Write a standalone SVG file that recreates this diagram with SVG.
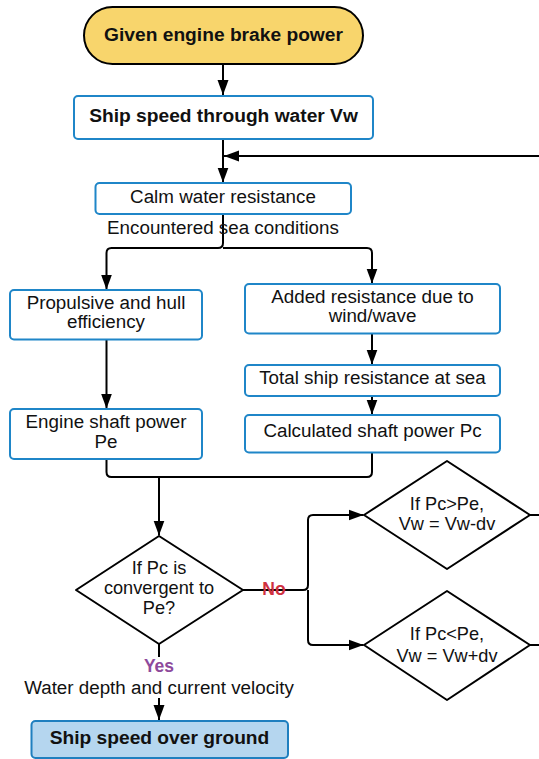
<svg xmlns="http://www.w3.org/2000/svg" width="539" height="759" viewBox="0 0 539 759">
<defs>
<marker id="ah" markerUnits="userSpaceOnUse" markerWidth="16" markerHeight="13" refX="15" refY="6.5" orient="auto">
<path d="M0,1 L15,6.5 L0,12 Z" fill="#000"/>
</marker>
<style>
.box{fill:#fff;stroke:#1f86c8;stroke-width:2}
.dia{fill:#fff;stroke:#000;stroke-width:2;stroke-linejoin:round}
.ln{fill:none;stroke:#000;stroke-width:2;stroke-linejoin:round}
.ar{marker-end:url(#ah)}
text{font-family:"Liberation Sans",Arial,sans-serif;text-anchor:middle;fill:#111}
.t{font-size:18.8px}
.d{font-size:18.2px}
.b{font-size:19.2px;font-weight:bold}
</style>
</defs>
<rect width="539" height="759" fill="#fff"/>
<g id="connectors">
<path class="ln ar" d="M223,64 V95"/>
<path class="ln ar" d="M223,139 V182.5"/>
<path class="ln ar" d="M539,156 H224"/>
<path class="ln ar" d="M223,214 V243 Q223,248 218,248 H111.5 Q106.5,248 106.5,253 V289.5"/>
<path class="ln ar" d="M223,248 H367 Q372,248 372,253 V283.5"/>
<path class="ln ar" d="M106.5,339.5 V408.5"/>
<path class="ln ar" d="M372,333.5 V364.5"/>
<path class="ln ar" d="M372,396 V414.5"/>
<path class="ln" d="M106.5,459 V472 Q106.5,477 111.5,477 H367 Q372,477 372,472 V452.5"/>
<path class="ln ar" d="M159,477 V535.5"/>
<path class="ln ar" d="M243,590 H303 Q308,590 308,585 V520 Q308,515 313,515 H363.5"/>
<path class="ln ar" d="M308,590 V640 Q308,645 313,645 H363.5"/>
<path class="ln" d="M530,515 H539"/>
<path class="ln" d="M530,645 H539"/>
<path class="ln" d="M159,644 V657"/>
<path class="ln ar" d="M159,698 V720"/>
</g>
<g id="start">
<rect x="84" y="7" width="279" height="57" rx="28.5" fill="#f8d56c" stroke="#000" stroke-width="2"/>
<text class="b" x="223.5" y="41">Given engine brake power</text>
</g>
<g id="speed-water">
<rect class="box" x="74" y="96" width="299" height="43" rx="4"/>
<text class="b" x="223.5" y="122">Ship speed through water Vw</text>
</g>
<g id="calm">
<rect class="box" x="95.5" y="183" width="255.5" height="31" rx="4"/>
<text class="t" x="223" y="203">Calm water resistance</text>
</g>
<g id="sea-label">
<text class="t" x="223" y="234">Encountered sea conditions</text>
</g>
<g id="propulsive">
<rect class="box" x="10" y="290" width="192" height="49.5" rx="4"/>
<text class="t" x="106" y="308.5">Propulsive and hull</text>
<text class="t" x="106" y="327.5">efficiency</text>
</g>
<g id="added">
<rect class="box" x="245" y="284" width="255" height="49.5" rx="4"/>
<text class="t" x="372.5" y="302.5">Added resistance due to</text>
<text class="t" x="372.5" y="322">wind/wave</text>
</g>
<g id="total">
<rect class="box" x="245" y="365" width="255" height="31" rx="4"/>
<text class="t" x="372.5" y="384">Total ship resistance at sea</text>
</g>
<g id="engine">
<rect class="box" x="10" y="409" width="192" height="50" rx="4"/>
<text class="t" x="106" y="427.5">Engine shaft power</text>
<text class="t" x="106" y="447.5">Pe</text>
</g>
<g id="calc">
<rect class="box" x="245" y="415" width="255" height="37.5" rx="4"/>
<text class="t" x="372.5" y="437">Calculated shaft power Pc</text>
</g>
<g id="converge">
<path class="dia" d="M159,536 L243,590 L159,644 L76,590 Z"/>
<text class="d" x="159" y="573.5">If Pc is</text>
<text class="d" x="159" y="593.5">convergent to</text>
<text class="d" x="159" y="613.5">Pe?</text>
</g>
<g id="no-label">
<text x="274" y="594.5" style="font-size:17.5px;font-weight:bold;fill:#d0313f">No</text>
</g>
<g id="greater">
<path class="dia" d="M447,461 L530,515 L447,569 L364,515 Z"/>
<text class="d" x="447" y="509.5">If Pc&gt;Pe,</text>
<text class="d" x="447" y="529.5">Vw = Vw-dv</text>
</g>
<g id="less">
<path class="dia" d="M447,591 L530,645 L447,700 L364,645 Z"/>
<text class="d" x="447" y="640">If Pc&lt;Pe,</text>
<text class="d" x="447" y="661.5">Vw = Vw+dv</text>
</g>
<g id="yes-label">
<text x="159" y="672" style="font-size:17.5px;font-weight:bold;fill:#8e4a9c">Yes</text>
</g>
<g id="depth-label">
<text class="t" x="159" y="693.5">Water depth and current velocity</text>
</g>
<g id="speed-ground">
<rect x="31.5" y="721" width="256.5" height="37" rx="4" fill="#b5d6ef" stroke="#1f7fbf" stroke-width="2"/>
<text class="b" x="159.5" y="744">Ship speed over ground</text>
</g>
</svg>
